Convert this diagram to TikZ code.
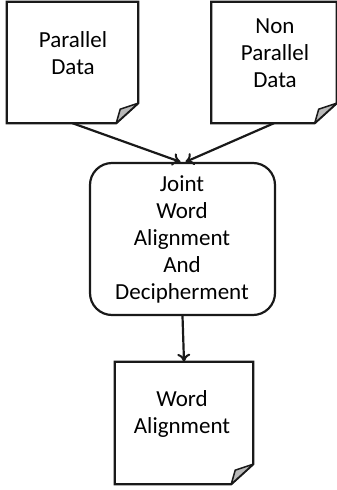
\documentclass[tikz,border=0pt]{standalone}
\usepackage{fontspec}
\setmainfont{Carlito}
\usetikzlibrary{arrows.meta}
\newcommand\docoutline[1]{%
  \draw[shapeline] (#1.north west) -- (#1.north east) -- ([yshift=20pt]#1.south east)
    -- ([xshift=-22pt]#1.south east) -- (#1.south west) -- cycle;
  \draw[foldline] ([yshift=20pt]#1.south east) -- ([xshift=-18pt,yshift=14pt]#1.south east)
    -- ([xshift=-22pt]#1.south east) -- cycle;}
\begin{document}
\begin{tikzpicture}[x=1pt,y=-1pt,
  shapeline/.style={line width=2.2pt, line join=miter, draw=black!90},
  foldline/.style={line width=1.5pt, fill=gray!55, draw=black!90, line join=round},
  docbox/.style={draw=none, inner sep=0, minimum width=#1},
  lbl/.style={align=center, font=\fontsize{23}{27}\selectfont, text=black, inner sep=0},
  conn/.style={-{To[length=8pt,width=13pt,line width=2pt]}, line width=2.2pt, draw=black!90}]
\useasboundingbox (0,0) rectangle (337,490);

% document shapes
\node[docbox=131pt, minimum height=121pt] (pd) at (72.5,62.5) {};
\node[docbox=125pt, minimum height=121pt] (npd) at (274,62.5) {};
\node[docbox=138pt, minimum height=122pt] (wa) at (184,423) {};
\docoutline{pd}
\docoutline{npd}
\docoutline{wa}

% texts
\node[lbl] (pdt) at (73,53) {Parallel\\Data};
\node[lbl] (npdt) at (275,53) {Non\\Parallel\\Data};
\node[lbl] (wat) at (182,414) {Word\\Alignment};

% process box
\node[draw=black!90, line width=2.2pt, rounded corners=22pt, minimum width=185pt,
      minimum height=152pt, inner sep=0] (jw) at (182.5,239) {};
\node[lbl] (jwt) at (182,239) {Joint\\Word\\Alignment\\And\\Decipherment};

% connectors
\draw[conn] (pd.south) -- ([xshift=-2pt]jw.north);
\draw[conn] (npd.south) -- ([xshift=3pt]jw.north);
\draw[conn] (jw.south) -- (wa.north);
\end{tikzpicture}
\end{document}
